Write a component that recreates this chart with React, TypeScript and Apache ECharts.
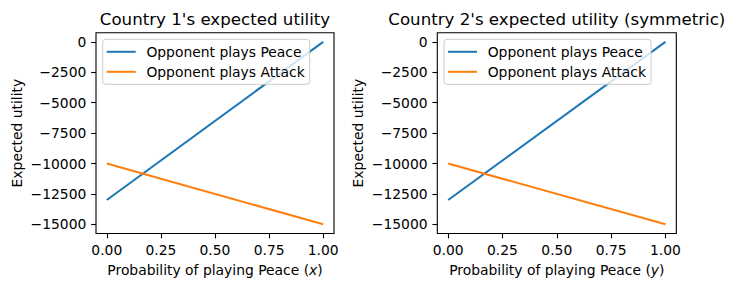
import React, { useEffect, useRef } from "react";
import * as echarts from "echarts";

// Probability of playing Peace
const probs = [0, 1];
// Expected utility when the opponent plays Peace / Attack
const peaceUtility = [-13000, 0];
const attackUtility = [-10000, -15000];

const xTicks = [0, 0.25, 0.5, 0.75, 1];
const yTicks = [-15000, -12500, -10000, -7500, -5000, -2500, 0];

const titles = ["Country 1's expected utility", "Country 2's expected utility (symmetric)"];
const xNames = ["Probability of playing Peace ({i|x})", "Probability of playing Peace ({i|y})"];
const seriesNames = ["Opponent plays Peace", "Opponent plays Attack"];
const colors = ["#1f77b4", "#ff7f0e"];

const FONT = "DejaVu Sans";
const FS = 13.89;
const TITLE_FS = 16.67;

const grids = [
  { left: 96, top: 32.7, width: 238, height: 200.8 },
  { left: 437.3, top: 32.7, width: 239, height: 200.8 },
];

export default function App() {
  const ref = useRef<HTMLDivElement>(null);

  useEffect(() => {
    if (!ref.current) return;
    const chart = echarts.init(ref.current, undefined, { renderer: "svg" });

    const toPairs = (ys: number[]) => probs.map((p, i) => [p, ys[i]]);
    const minus = (v: number) => String(v).replace("-", "\u2212");

    const tick = (values: number[]) => ({
      show: true,
      inside: false,
      length: 4.9,
      lineStyle: { color: "#000", width: 1.1 },
      customValues: values,
    });

    const xAxes = grids.map((_, i) => ({
      type: "value",
      gridIndex: i,
      min: -0.05,
      max: 1.05,
      name: xNames[i],
      nameLocation: "middle",
      nameGap: 29,
      nameTextStyle: {
        fontFamily: FONT,
        fontSize: FS,
        color: "#000",
        rich: { i: { fontFamily: FONT, fontStyle: "italic", fontSize: FS, color: "#000" } },
      },
      axisLine: { show: false, onZero: false },
      splitLine: { show: false },
      axisTick: tick(xTicks),
      axisLabel: {
        fontFamily: FONT,
        fontSize: FS,
        color: "#000",
        margin: 9.7,
        customValues: xTicks,
        formatter: (v: number) => v.toFixed(2),
      },
    }));

    const yAxes = grids.map((_, i) => ({
      type: "value",
      gridIndex: i,
      min: -15750,
      max: 750,
      name: "Expected utility",
      nameLocation: "middle",
      nameGap: 72,
      nameTextStyle: { fontFamily: FONT, fontSize: FS, color: "#000" },
      axisLine: { show: false, onZero: false },
      splitLine: { show: false },
      axisTick: tick(yTicks),
      axisLabel: {
        fontFamily: FONT,
        fontSize: FS,
        color: "#000",
        margin: 9.7,
        customValues: yTicks,
        formatter: (v: number) => minus(v),
      },
    }));

    const series: any[] = [];
    grids.forEach((_, i) => {
      [peaceUtility, attackUtility].forEach((ys, k) => {
        series.push({
          type: "line",
          name: seriesNames[k],
          xAxisIndex: i,
          yAxisIndex: i,
          data: toPairs(ys),
          symbol: "none",
          color: colors[k],
          lineStyle: { color: colors[k], width: 2.08 },
        });
      });
    });

    const legendLefts = [102.7, 444];
    const legends = legendLefts.map((left) => ({
      left,
      top: 39.3,
      orient: "vertical",
      data: seriesNames,
      icon: "rect",
      itemWidth: 29,
      itemHeight: 2,
      itemGap: 6,
      padding: [5.5, 5, 5.5, 4],
      backgroundColor: "rgba(255,255,255,0.8)",
      borderColor: "#cccccc",
      borderWidth: 1,
      borderRadius: 3,
      selectedMode: false,
      textStyle: { fontFamily: FONT, fontSize: FS, color: "#000", padding: [0, 0, 0, 5.7], lineHeight: 14 },
    }));

    const graphic: any[] = [];
    grids.forEach((g, i) => {
      graphic.push({
        type: "rect",
        silent: true,
        z: 100,
        shape: { x: g.left, y: g.top, width: g.width, height: g.height },
        style: { fill: "none", stroke: "#000", lineWidth: 1.1 },
      });
      graphic.push({
        type: "text",
        x: g.left + g.width / 2,
        y: 19,
        style: {
          text: titles[i],
          align: "center",
          verticalAlign: "middle",
          fontFamily: FONT,
          fontSize: TITLE_FS,
          fill: "#000",
        },
      });
    });

    chart.setOption({
      animation: false,
      backgroundColor: "#fff",
      grid: grids.map((g) => ({ ...g, show: false })),
      xAxis: xAxes,
      yAxis: yAxes,
      legend: legends,
      series,
      graphic,
    });

    return () => chart.dispose();
  }, []);

  return <div ref={ref} style={{ position: "fixed", left: 0, top: 0, width: 734, height: 290 }} />;
}
